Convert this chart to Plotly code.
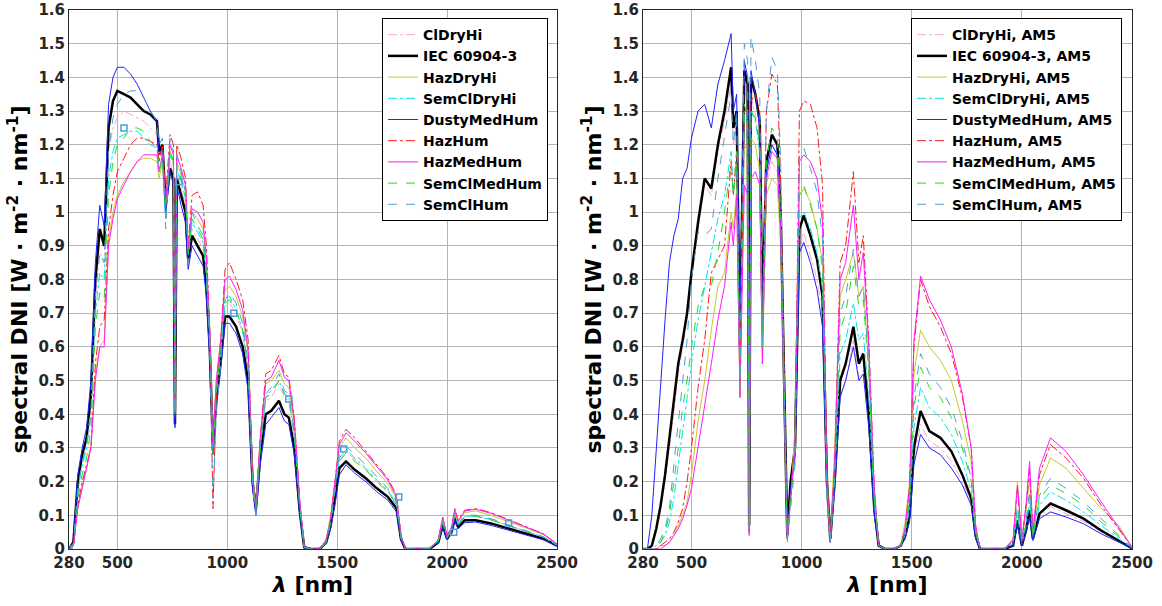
import plotly.graph_objects as go
from plotly.subplots import make_subplots

# wavelength grid shared by every curve (nm)
wavelength = [280, 300, 320, 340, 360, 380, 400, 420, 440, 460,
              480, 500, 530, 560, 590, 620, 650, 680, 690, 705,
              720, 740, 755, 762, 770, 790, 810, 822, 840, 865,
              890, 905, 920, 935, 950, 970, 990, 1010, 1040, 1070,
              1095, 1115, 1130, 1150, 1175, 1200, 1235, 1260, 1280, 1305,
              1330, 1350, 1380, 1420, 1450, 1470, 1490, 1510, 1540, 1580,
              1630, 1680, 1730, 1770, 1790, 1810, 1860, 1920, 1960, 1980,
              2000, 2020, 2035, 2050, 2080, 2130, 2200, 2280, 2360, 2440,
              2500]

names = ["ClDryHi", "IEC 60904-3", "HazDryHi", "SemClDryHi", "DustyMedHum",
         "HazHum", "HazMedHum", "SemClMedHum", "SemClHum"]

# ---- left panel (reference air mass) ----
left_cldryhi = [0, 0.015, 0.18, 0.26, 0.31, 0.42, 0.76, 0.88, 0.85, 1.18,
                1.25, 1.28, 1.3, 1.29, 1.28, 1.27, 1.25, 1.23, 1.15, 1.18,
                1.0, 1.15, 1.12, 0.38, 1.12, 1.07, 1.02, 0.86, 0.95, 0.92,
                0.89, 0.8, 0.61, 0.3, 0.46, 0.57, 0.72, 0.73, 0.7, 0.64,
                0.53, 0.2, 0.12, 0.3, 0.44, 0.45, 0.49, 0.45, 0.44, 0.33,
                0.12, 0.005, 0, 0, 0.02, 0.08, 0.17, 0.26, 0.29, 0.265,
                0.235, 0.2, 0.17, 0.13, 0.033, 0, 0, 0, 0.023, 0.078,
                0.033, 0.055, 0.1, 0.072, 0.097, 0.1, 0.088, 0.07, 0.053, 0.035,
                0.012]
left_iec = [0, 0.02, 0.2, 0.28, 0.33, 0.46, 0.8, 0.95, 0.9, 1.25,
            1.33, 1.36, 1.35, 1.34, 1.32, 1.3, 1.29, 1.27, 1.18, 1.2,
            1.02, 1.13, 1.1, 0.37, 1.1, 1.05, 1.0, 0.86, 0.93, 0.9,
            0.87, 0.78, 0.6, 0.3, 0.45, 0.56, 0.69, 0.69, 0.66, 0.6,
            0.5, 0.2, 0.12, 0.28, 0.4, 0.41, 0.44, 0.4, 0.39, 0.3,
            0.11, 0.005, 0, 0, 0.02, 0.07, 0.15, 0.24, 0.26, 0.235,
            0.21, 0.18, 0.155, 0.12, 0.03, 0, 0, 0, 0.02, 0.07,
            0.03, 0.05, 0.09, 0.065, 0.085, 0.085, 0.076, 0.06, 0.045, 0.03,
            0.01]
left_hazdryhi = [0, 0.01, 0.12, 0.19, 0.24, 0.31, 0.52, 0.6, 0.62, 0.92,
                 1.0, 1.05, 1.09, 1.12, 1.15, 1.16, 1.16, 1.15, 1.1, 1.15,
                 1.0, 1.18, 1.15, 0.4, 1.15, 1.11, 1.06, 0.89, 1.0, 0.98,
                 0.95, 0.85, 0.65, 0.32, 0.5, 0.62, 0.77, 0.78, 0.75, 0.69,
                 0.58, 0.22, 0.13, 0.33, 0.49, 0.5, 0.53, 0.49, 0.48, 0.37,
                 0.14, 0.007, 0, 0, 0.03, 0.1, 0.2, 0.3, 0.33, 0.3,
                 0.27, 0.23, 0.195, 0.15, 0.04, 0, 0, 0, 0.028, 0.09,
                 0.04, 0.06, 0.112, 0.08, 0.108, 0.113, 0.1, 0.082, 0.062, 0.042,
                 0.014]
left_semcldryhi = [0, 0.015, 0.17, 0.25, 0.3, 0.4, 0.7, 0.82, 0.8, 1.1,
                   1.18, 1.22, 1.23, 1.24, 1.24, 1.22, 1.2, 1.19, 1.13, 1.16,
                   0.98, 1.17, 1.14, 0.39, 1.13, 1.09, 1.04, 0.87, 0.97, 0.94,
                   0.91, 0.81, 0.62, 0.29, 0.46, 0.58, 0.74, 0.75, 0.71, 0.65,
                   0.54, 0.2, 0.12, 0.3, 0.45, 0.47, 0.5, 0.46, 0.45, 0.34,
                   0.13, 0.005, 0, 0, 0.02, 0.08, 0.17, 0.27, 0.295, 0.27,
                   0.24, 0.205, 0.175, 0.135, 0.034, 0, 0, 0, 0.024, 0.08,
                   0.034, 0.055, 0.1, 0.072, 0.097, 0.098, 0.087, 0.07, 0.052, 0.035,
                   0.011]
left_dustymedhum = [0, 0.02, 0.22, 0.3, 0.36, 0.5, 0.85, 1.02, 0.96, 1.32,
                    1.4, 1.43, 1.43, 1.41, 1.38, 1.34, 1.3, 1.27, 1.17, 1.19,
                    1.0, 1.12, 1.08, 0.36, 1.08, 1.02, 0.97, 0.83, 0.9, 0.87,
                    0.84, 0.75, 0.57, 0.28, 0.42, 0.53, 0.67, 0.67, 0.64, 0.58,
                    0.47, 0.18, 0.1, 0.25, 0.37, 0.39, 0.42, 0.38, 0.37, 0.28,
                    0.1, 0.004, 0, 0, 0.015, 0.06, 0.13, 0.22, 0.25, 0.225,
                    0.2, 0.17, 0.145, 0.11, 0.028, 0, 0, 0, 0.02, 0.065,
                    0.028, 0.045, 0.085, 0.06, 0.078, 0.08, 0.07, 0.055, 0.04, 0.027,
                    0.008]
left_hazhum = [0, 0.01, 0.13, 0.2, 0.25, 0.3, 0.55, 0.66, 0.68, 0.95,
               1.05, 1.12, 1.16, 1.2, 1.22, 1.22, 1.21, 1.2, 1.15, 1.2,
               1.05, 1.23, 1.2, 0.42, 1.2, 1.16, 1.1, 0.9, 1.05, 1.06,
               1.02, 0.9, 0.66, 0.12, 0.45, 0.62, 0.83, 0.85, 0.8, 0.74,
               0.62, 0.22, 0.12, 0.33, 0.52, 0.53, 0.575, 0.52, 0.51, 0.39,
               0.14, 0.006, 0, 0, 0.025, 0.09, 0.2, 0.32, 0.355, 0.33,
               0.29, 0.25, 0.21, 0.16, 0.04, 0, 0, 0, 0.028, 0.095,
               0.04, 0.065, 0.12, 0.085, 0.115, 0.12, 0.108, 0.088, 0.066, 0.044,
               0.015]
left_hazmedhum = [0, 0.01, 0.12, 0.18, 0.23, 0.3, 0.5, 0.6, 0.6, 0.9,
                  0.98, 1.04, 1.08, 1.12, 1.15, 1.17, 1.17, 1.17, 1.12, 1.17,
                  1.02, 1.2, 1.17, 0.41, 1.17, 1.13, 1.08, 0.89, 1.01, 1.0,
                  0.97, 0.86, 0.66, 0.3, 0.5, 0.62, 0.8, 0.81, 0.77, 0.71,
                  0.59, 0.21, 0.12, 0.33, 0.5, 0.51, 0.56, 0.51, 0.5, 0.38,
                  0.14, 0.006, 0, 0, 0.025, 0.09, 0.2, 0.31, 0.345, 0.32,
                  0.285, 0.245, 0.205, 0.155, 0.04, 0, 0, 0, 0.028, 0.093,
                  0.04, 0.063, 0.118, 0.083, 0.113, 0.118, 0.106, 0.086, 0.065, 0.044,
                  0.015]
left_semclmedhum = [0, 0.012, 0.15, 0.22, 0.27, 0.36, 0.66, 0.76, 0.74, 1.05,
                    1.15, 1.2, 1.22, 1.25, 1.25, 1.24, 1.21, 1.19, 1.12, 1.16,
                    0.98, 1.18, 1.15, 0.4, 1.14, 1.1, 1.05, 0.88, 0.98, 0.95,
                    0.92, 0.82, 0.62, 0.28, 0.46, 0.58, 0.73, 0.74, 0.71, 0.65,
                    0.54, 0.2, 0.12, 0.3, 0.45, 0.46, 0.5, 0.46, 0.45, 0.34,
                    0.12, 0.005, 0, 0, 0.02, 0.08, 0.17, 0.26, 0.285, 0.26,
                    0.235, 0.2, 0.17, 0.13, 0.033, 0, 0, 0, 0.023, 0.078,
                    0.033, 0.053, 0.1, 0.07, 0.095, 0.097, 0.086, 0.069, 0.051, 0.034,
                    0.011]
left_semclhum = [0, 0.015, 0.18, 0.26, 0.31, 0.42, 0.75, 0.88, 0.85, 1.18,
                 1.28, 1.32, 1.35, 1.36, 1.36, 1.34, 1.3, 1.27, 1.2, 1.22,
                 0.95, 1.22, 1.18, 0.4, 1.17, 1.12, 1.06, 0.85, 1.0, 0.96,
                 0.93, 0.82, 0.6, 0.15, 0.4, 0.55, 0.74, 0.76, 0.73, 0.67,
                 0.55, 0.18, 0.1, 0.3, 0.46, 0.48, 0.52, 0.47, 0.46, 0.35,
                 0.13, 0.005, 0, 0, 0.02, 0.08, 0.18, 0.28, 0.305, 0.28,
                 0.25, 0.215, 0.18, 0.14, 0.035, 0, 0, 0, 0.025, 0.085,
                 0.035, 0.055, 0.105, 0.075, 0.1, 0.1, 0.09, 0.072, 0.055, 0.036,
                 0.012]
# square markers seen on the left SemClHum curve
marker_nm = [280, 530, 780, 1030, 1280, 1530, 1780, 2030, 2280]
marker_val = [0, 1.25, 1.09, 0.70, 0.445, 0.297, 0.154, 0.05, 0.077]

# ---- right panel (AM5) ----
right_cldryhi = [0, 0, 0.01, 0.05, 0.12, 0.2, 0.3, 0.42, 0.52, 0.6,
                 0.68, 0.8, 0.95, 1.08, 1.05, 1.18, 1.27, 1.38, 1.2, 1.25,
                 0.58, 1.36, 1.32, 0.07, 1.34, 1.29, 1.2, 0.66, 1.08, 1.15,
                 1.12, 0.93, 0.5, 0.04, 0.18, 0.28, 0.9, 0.94, 0.87, 0.8,
                 0.7, 0.18, 0.03, 0.18, 0.46, 0.5, 0.62, 0.51, 0.53, 0.37,
                 0.11, 0.01, 0, 0, 0.01, 0.035, 0.09, 0.27, 0.37, 0.32,
                 0.3, 0.26, 0.2, 0.14, 0.035, 0, 0, 0, 0.01, 0.075,
                 0.01, 0.055, 0.1, 0.028, 0.095, 0.125, 0.105, 0.082, 0.05, 0.022,
                 0.002]
right_iec = [0, 0, 0.01, 0.06, 0.13, 0.22, 0.33, 0.45, 0.55, 0.62,
             0.7, 0.82, 0.97, 1.1, 1.07, 1.2, 1.3, 1.43, 1.25, 1.3,
             0.6, 1.42, 1.38, 0.07, 1.4, 1.35, 1.27, 0.7, 1.15, 1.23,
             1.2, 1.0, 0.55, 0.04, 0.2, 0.3, 0.95, 0.99, 0.93, 0.86,
             0.75, 0.2, 0.03, 0.2, 0.5, 0.55, 0.66, 0.55, 0.58, 0.4,
             0.12, 0.01, 0, 0, 0.01, 0.04, 0.1, 0.3, 0.41, 0.35,
             0.33, 0.29, 0.22, 0.15, 0.04, 0, 0, 0, 0.01, 0.085,
             0.01, 0.06, 0.115, 0.03, 0.105, 0.135, 0.115, 0.09, 0.055, 0.025,
             0.002]
right_hazdryhi = [0, 0, 0, 0, 0.01, 0.01, 0.02, 0.04, 0.07, 0.1,
                  0.14, 0.22, 0.38, 0.5, 0.65, 0.78, 0.82, 1.0, 0.95, 1.07,
                  0.45, 1.2, 1.18, 0.05, 1.22, 1.2, 1.12, 0.55, 1.05, 1.1,
                  1.08, 0.9, 0.48, 0.03, 0.15, 0.35, 1.05, 1.07, 1.03, 0.95,
                  0.85, 0.22, 0.03, 0.3, 0.75, 0.8, 0.88, 0.75, 0.78, 0.55,
                  0.16, 0.01, 0, 0, 0.015, 0.08, 0.2, 0.52, 0.65, 0.6,
                  0.56, 0.5, 0.38, 0.26, 0.06, 0, 0, 0, 0.03, 0.2,
                  0.025, 0.12, 0.21, 0.05, 0.19, 0.27, 0.24, 0.18, 0.12, 0.07,
                  0.005]
right_semcldryhi = [0, 0, 0, 0.01, 0.02, 0.04, 0.08, 0.15, 0.25, 0.35,
                    0.45, 0.55, 0.68, 0.78, 0.88, 0.98, 1.05, 1.18, 1.05, 1.15,
                    0.5, 1.3, 1.27, 0.06, 1.3, 1.27, 1.18, 0.62, 1.12, 1.2,
                    1.17, 0.97, 0.5, 0.03, 0.15, 0.3, 0.98, 1.0, 0.95, 0.88,
                    0.77, 0.17, 0.02, 0.18, 0.58, 0.62, 0.73, 0.62, 0.64, 0.45,
                    0.13, 0.01, 0, 0, 0.01, 0.04, 0.12, 0.36, 0.48, 0.42,
                    0.39, 0.34, 0.26, 0.17, 0.045, 0, 0, 0, 0.015, 0.1,
                    0.015, 0.07, 0.14, 0.035, 0.13, 0.17, 0.145, 0.11, 0.07, 0.03,
                    0.003]
right_dustymedhum = [0, 0, 0.1, 0.3, 0.5, 0.68, 0.85, 0.93, 0.98, 1.1,
                     1.13, 1.22, 1.3, 1.32, 1.25, 1.38, 1.45, 1.53, 1.3, 1.35,
                     0.65, 1.45, 1.4, 0.08, 1.42, 1.35, 1.25, 0.7, 1.12, 1.2,
                     1.17, 0.95, 0.5, 0.03, 0.18, 0.27, 0.88, 0.91, 0.85, 0.77,
                     0.66, 0.18, 0.02, 0.18, 0.45, 0.5, 0.6, 0.5, 0.52, 0.36,
                     0.1, 0.01, 0, 0, 0.01, 0.03, 0.08, 0.25, 0.34, 0.3,
                     0.28, 0.24, 0.19, 0.13, 0.03, 0, 0, 0, 0.01, 0.07,
                     0.01, 0.05, 0.095, 0.025, 0.09, 0.11, 0.095, 0.075, 0.045, 0.02,
                     0.002]
right_hazhum = [0, 0, 0, 0, 0.01, 0.02, 0.03, 0.05, 0.08, 0.12,
                0.2, 0.3, 0.48, 0.62, 0.82, 0.86, 0.9, 1.15, 1.05, 1.18,
                0.5, 1.3, 1.3, 0.05, 1.33, 1.35, 1.3, 0.6, 1.3, 1.41,
                1.38, 1.1, 0.5, 0.03, 0.15, 0.3, 1.3, 1.33, 1.32, 1.25,
                1.08, 0.2, 0.02, 0.25, 0.85, 0.9, 1.12, 0.85, 0.93, 0.62,
                0.18, 0.01, 0, 0, 0.01, 0.06, 0.18, 0.6, 0.8, 0.72,
                0.66, 0.58, 0.45, 0.3, 0.07, 0, 0, 0, 0.025, 0.18,
                0.025, 0.13, 0.24, 0.05, 0.22, 0.31, 0.27, 0.21, 0.13, 0.06,
                0.005]
right_hazmedhum = [0, 0, 0, 0, 0, 0.01, 0.02, 0.04, 0.06, 0.09,
                   0.13, 0.18, 0.3, 0.42, 0.55, 0.68, 0.78, 0.97, 0.9, 1.05,
                   0.45, 1.08, 1.05, 0.04, 1.1, 1.12, 1.08, 0.55, 1.1, 1.18,
                   1.16, 0.95, 0.45, 0.03, 0.15, 0.3, 1.15, 1.17, 1.15, 1.1,
                   0.97, 0.2, 0.02, 0.25, 0.8, 0.85, 1.02, 0.8, 0.88, 0.6,
                   0.18, 0.01, 0, 0, 0.01, 0.06, 0.18, 0.62, 0.81, 0.74,
                   0.68, 0.6, 0.46, 0.3, 0.07, 0, 0, 0, 0.025, 0.19,
                   0.025, 0.14, 0.26, 0.05, 0.24, 0.33, 0.29, 0.22, 0.14, 0.065,
                   0.005]
right_semclmedhum = [0, 0, 0, 0.01, 0.02, 0.05, 0.1, 0.2, 0.3, 0.42,
                     0.5, 0.6, 0.72, 0.78, 0.78, 0.88, 1.0, 1.15, 1.05, 1.18,
                     0.48, 1.32, 1.28, 0.06, 1.3, 1.28, 1.2, 0.6, 1.15, 1.25,
                     1.22, 1.0, 0.5, 0.03, 0.15, 0.3, 1.05, 1.08, 1.02, 0.95,
                     0.83, 0.17, 0.02, 0.2, 0.65, 0.7, 0.84, 0.72, 0.74, 0.52,
                     0.15, 0.01, 0, 0, 0.01, 0.05, 0.14, 0.42, 0.54, 0.48,
                     0.45, 0.39, 0.3, 0.2, 0.05, 0, 0, 0, 0.02, 0.12,
                     0.02, 0.085, 0.16, 0.04, 0.15, 0.19, 0.165, 0.13, 0.08, 0.035,
                     0.003]
right_semclhum = [0, 0, 0, 0.01, 0.03, 0.06, 0.12, 0.25, 0.38, 0.5,
                  0.62, 0.8, 0.94, 0.93, 0.95, 1.1, 1.22, 1.35, 1.2, 1.3,
                  0.5, 1.5, 1.45, 0.06, 1.52, 1.45, 1.35, 0.6, 1.3, 1.46,
                  1.42, 1.15, 0.5, 0.02, 0.12, 0.25, 1.17, 1.19, 1.13, 1.06,
                  0.92, 0.15, 0.02, 0.22, 0.7, 0.75, 0.89, 0.75, 0.78, 0.55,
                  0.15, 0.01, 0, 0, 0.01, 0.05, 0.15, 0.45, 0.58, 0.52,
                  0.48, 0.42, 0.32, 0.21, 0.05, 0, 0, 0, 0.02, 0.13,
                  0.02, 0.09, 0.17, 0.04, 0.16, 0.21, 0.18, 0.14, 0.09, 0.04,
                  0.003]

left_series = [left_cldryhi, left_iec, left_hazdryhi, left_semcldryhi, left_dustymedhum,
               left_hazhum, left_hazmedhum, left_semclmedhum, left_semclhum]
right_series = [right_cldryhi, right_iec, right_hazdryhi, right_semcldryhi, right_dustymedhum,
                right_hazhum, right_hazmedhum, right_semclmedhum, right_semclhum]

colors = ["#ffa6bf", "#000000", "#c8c832", "#00e4f0", "#2222ff",
          "#ff1a1a", "#ff1aff", "#1ee01e", "#4d9fd6"]
dashes = ["dashdot", "solid", "solid", "dashdot", "solid",
          "dashdot", "solid", "dash", "dash"]
widths = [1, 2.5, 1, 1, 1, 1, 1, 1, 1]

FONT = "DejaVu Sans"

fig = make_subplots(rows=1, cols=2)

for i in range(len(names)):
    fig.add_trace(go.Scatter(
        x=wavelength, y=left_series[i], mode="lines", name=names[i],
        line=dict(color=colors[i], width=widths[i], dash=dashes[i]),
        legend="legend"), row=1, col=1)
fig.add_trace(go.Scatter(
    x=marker_nm, y=marker_val, mode="markers", showlegend=False,
    marker=dict(symbol="square-open", size=6, color=colors[8], line=dict(width=1.5))),
    row=1, col=1)
for i in range(len(names)):
    fig.add_trace(go.Scatter(
        x=wavelength, y=right_series[i], mode="lines", name=names[i] + ", AM5",
        line=dict(color=colors[i], width=widths[i], dash=dashes[i]),
        legend="legend2"), row=1, col=2)

axis_font = dict(family=FONT, size=15, color="#262626", weight="bold")
title_font = dict(family=FONT, size=22, color="#000000", weight="bold")

for c, dom in [(1, [0, 0.4591]), (2, [0.54, 1.0])]:
    fig.update_xaxes(domain=dom, range=[280, 2500], automargin=False,
                     tickvals=[280, 500, 1000, 1500, 2000, 2500],
                     title=dict(text="<i>λ</i> [nm]", font=title_font, standoff=4),
                     tickfont=axis_font, showgrid=True, gridcolor="#b4b4b4", gridwidth=1,
                     showline=True, linecolor="#262626", linewidth=1, mirror=True,
                     ticks="", zeroline=False, row=1, col=c)
    fig.update_yaxes(range=[0, 1.6], dtick=0.1, automargin=False,
                     title=dict(text="spectral DNI [W · m<sup>-2</sup> · nm<sup>-1</sup>]",
                                font=title_font, standoff=4),
                     tickfont=axis_font, showgrid=True, gridcolor="#b4b4b4", gridwidth=1,
                     showline=True, linecolor="#262626", linewidth=1, mirror=True,
                     ticks="", zeroline=False, row=1, col=c)

legend_style = dict(bgcolor="white", bordercolor="black", borderwidth=1,
                    font=dict(family=FONT, size=14, color="#000000", weight="bold"),
                    xanchor="right", yanchor="top", y=0.985, tracegroupgap=0)
fig.update_layout(
    width=1162, height=606,
    margin=dict(l=69, r=30, t=10, b=57),
    plot_bgcolor="white", paper_bgcolor="white",
    legend=dict(x=0.4506, **legend_style),
    legend2=dict(x=0.9906, **legend_style),
)

# drop the default 8px page margin so the figure sits at the window corner
fig.write_html("out.html", config={"displayModeBar": False},
               post_script="document.body.style.margin='0px';")
